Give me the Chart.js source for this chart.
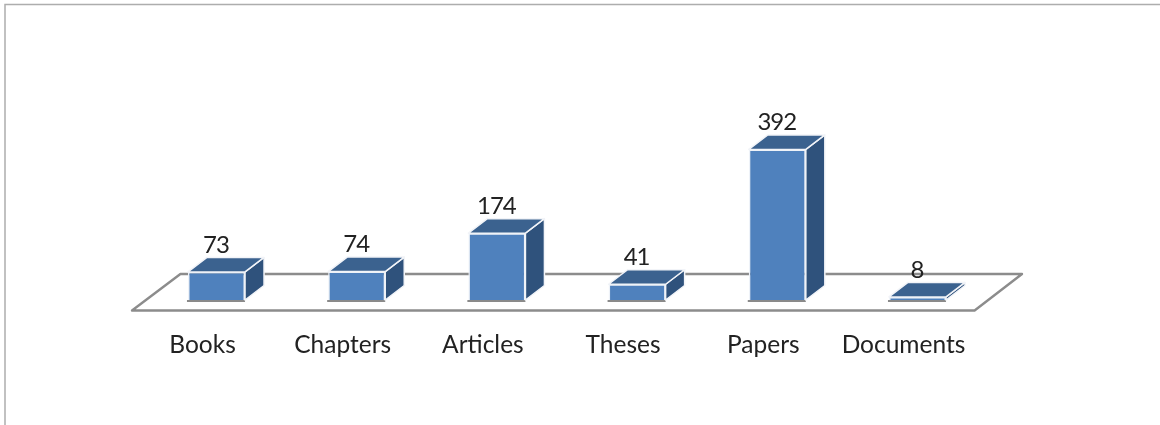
<!DOCTYPE html>
<html><head><meta charset="utf-8">
<style>html,body{margin:0;padding:0;background:#fff;overflow:hidden}canvas{display:block}</style>
<script src="https://cdn.jsdelivr.net/npm/chart.js@4"></script>
</head><body>
<canvas id="c" width="1160" height="425"></canvas>
<script>
const categories = ["Books","Chapters","Articles","Theses","Papers","Documents"];
const documentCounts = [73,74,174,41,392,8];

const FONT = "Lato, 'Open Sans', sans-serif";
const DX = 19, DY = -14.5;

function poly(ctx, pts, fill, stroke, lw){
  ctx.beginPath();
  pts.forEach((p,i)=> i ? ctx.lineTo(p[0],p[1]) : ctx.moveTo(p[0],p[1]));
  ctx.closePath();
  if(fill){ctx.fillStyle=fill;ctx.fill();}
  if(stroke){ctx.strokeStyle=stroke;ctx.lineWidth=lw;ctx.lineJoin='round';ctx.stroke();}
}

const frame3d = {
  id:'frame3d',
  beforeDatasetsDraw(chart){
    const {ctx,chartArea:a} = chart;
    ctx.save();
    // page frame
    ctx.strokeStyle='#adadad'; ctx.lineWidth=1.5;
    ctx.beginPath(); ctx.moveTo(5,425); ctx.lineTo(5,4.5); ctx.lineTo(1160,4.5); ctx.stroke();
    // floor
    const fy=a.bottom+10.5, by=a.bottom-26;
    poly(ctx,[[a.left-14.4,fy],[a.left+34,by],[a.right+34.4,by],[a.right-13,fy]],'#fff','#8c8c8c',2.4);
    // 3D sides behind each bar
    const meta=chart.getDatasetMeta(0);
    meta.data.forEach(b=>{
      const l=b.x-b.width/2, r=b.x+b.width/2, t=b.y, bt=b.base;
      ctx.strokeStyle='#8a8a8a'; ctx.lineWidth=2;
      ctx.beginPath(); ctx.moveTo(l-1,bt+1); ctx.lineTo(r,bt+1); ctx.stroke();
      poly(ctx,[[r,t],[r+DX,t+DY],[r+DX,bt+DY],[r,bt]],'#2f527c','#f2f4f8',1.5);
      poly(ctx,[[l,t],[l+DX,t+DY],[r+DX,t+DY],[r,t]],'#3b628f','#f2f4f8',1.5);
    });
    ctx.restore();
  },
  afterDatasetsDraw(chart){
    const {ctx} = chart;
    ctx.save();
    ctx.font='24px '+FONT; ctx.fillStyle='#222'; ctx.textAlign='center'; ctx.textBaseline='middle';
    ctx.letterSpacing='-1px';
    chart.getDatasetMeta(0).data.forEach((b,i)=>{
      ctx.fillText(String(documentCounts[i]), b.x-0.5, b.y+DY-12.5);
    });
    ctx.restore();
  }
};

new Chart(document.getElementById('c'),{
  type:'bar',
  data:{labels:categories,datasets:[{
    data:documentCounts,
    backgroundColor:'#4f81bd',
    borderColor:'#eef2f8',
    borderWidth:1.5,
    barPercentage:1,
    categoryPercentage:0.407,
    animation:false
  }]},
  plugins:[frame3d],
  options:{
    responsive:false,
    animation:false,
    devicePixelRatio:1,
    layout:{padding:{left:146.4,right:172.4,top:69.5,bottom:0}},
    plugins:{legend:{display:false},tooltip:{enabled:false},title:{display:false}},
    scales:{
      y:{display:false,min:0,max:600},
      x:{
        border:{display:false},
        grid:{display:false,drawTicks:false},
        afterFit(s){s.height=125;},
        ticks:{color:'#222',font:{family:FONT,size:24.5},padding:30,labelOffset:-14,maxRotation:0,autoSkip:false}
      }
    }
  }
});
</script>
</body></html>
